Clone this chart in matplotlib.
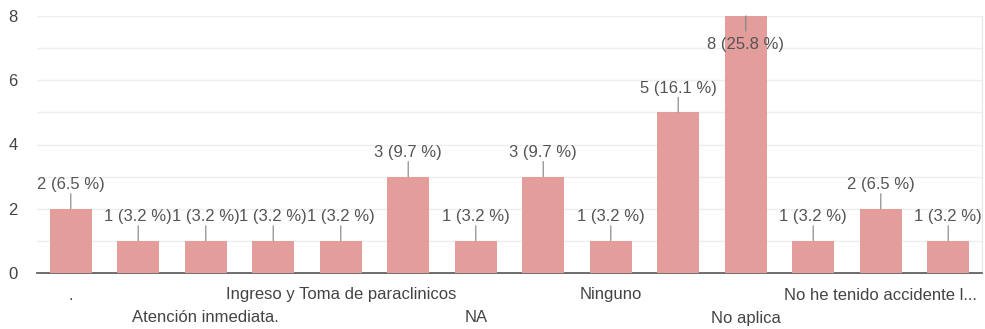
import matplotlib
matplotlib.use("Agg")
import matplotlib.pyplot as plt

categories = [".", "", "Atención inmediata.", "", "Ingreso y Toma de paraclinicos", "",
              "NA", "", "Ninguno", "", "No aplica", "", "No he tenido accidente l...", ""]
values = [2, 1, 1, 1, 1, 3, 1, 3, 1, 5, 8, 1, 2, 1]
total = sum(values)
y_ticks = [0, 2, 4, 6, 8]

plt.rcParams['font.family'] = ['Liberation Sans', 'DejaVu Sans']

fig = plt.figure(figsize=(9.85, 3.29), dpi=100)
ax = fig.add_axes([37/985, 56/329, 945/985, 257/329])

bar_color = "#e39d9a"
text_color = "#555555"
fs = 12
px = 0.72  # points per pixel
x = list(range(len(values)))
ax.bar(x, values, width=0.62, color=bar_color, zorder=3)

ax.set_xlim(-0.5, len(values) - 0.5)
ax.set_ylim(0, 8)
ax.set_yticks(y_ticks)
ax.set_yticklabels([str(t) for t in y_ticks], fontsize=fs, color="#444444")
ax.set_yticks(range(0, 9), minor=True)
ax.grid(axis='y', which='both', color="#eeeeee", linewidth=1, zorder=0)
ax.tick_params(axis='y', which='both', length=0, pad=14)

ax.set_xticks(x)
ax.set_xticklabels([""] * len(x))
ax.tick_params(axis='x', length=0)

row = 0
for i, c in enumerate(categories):
    if not c:
        continue
    off = -22 if row % 2 == 0 else -45
    ax.annotate(c, xy=(i, 0), xycoords=ax.get_xaxis_transform(),
                xytext=(0, off * px), textcoords='offset points',
                ha='center', va='center', fontsize=fs, color="#444444",
                annotation_clip=False)
    row += 1

for s in ['top', 'left']:
    ax.spines[s].set_visible(False)
ax.spines['right'].set_color("#e6e6e6")
ax.spines['bottom'].set_color("#555555")
ax.spines['bottom'].set_linewidth(1.2)

for i, v in enumerate(values):
    txt = f"{v} ({v / total * 100:.1f} %)"
    if v >= 7.5:
        ax.annotate('', xy=(i, v), xytext=(0, -15 * px), textcoords='offset points',
                    arrowprops=dict(arrowstyle='-', color="#8a8a8a", lw=1, shrinkA=0, shrinkB=0),
                    zorder=4)
        ax.annotate(txt, xy=(i, v), xytext=(0, -29 * px), textcoords='offset points',
                    ha='center', va='center', fontsize=fs, color=text_color, zorder=5)
    else:
        ax.annotate('', xy=(i, v), xytext=(0, 15 * px), textcoords='offset points',
                    arrowprops=dict(arrowstyle='-', color="#9a9a9a", lw=1, shrinkA=0, shrinkB=0),
                    zorder=4)
        ax.annotate(txt, xy=(i, v), xytext=(0, 24 * px), textcoords='offset points',
                    ha='center', va='center', fontsize=fs, color=text_color, zorder=5,
                    annotation_clip=False)

fig.savefig("out.png", dpi=100)
